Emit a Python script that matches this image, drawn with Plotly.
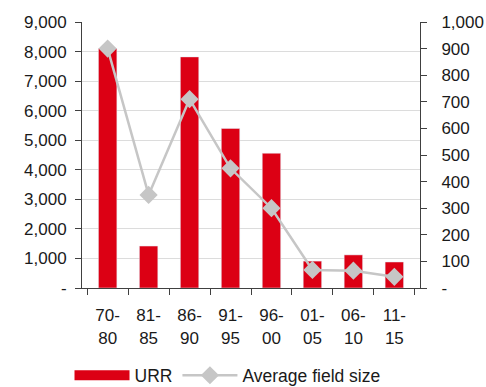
import plotly.graph_objects as go

categories = ["70-<br>80", "81-<br>85", "86-<br>90", "91-<br>95", "96-<br>00", "01-<br>05", "06-<br>10", "11-<br>15"]
urr = [8100, 1420, 7820, 5400, 4560, 910, 1120, 880]
avg_field_size = [900, 350, 710, 450, 300, 68, 65, 42]

left_ticks = [0, 1000, 2000, 3000, 4000, 5000, 6000, 7000, 8000, 9000]
left_labels = ["-"] + [f"{v:,}" for v in left_ticks[1:]]
right_ticks = [0, 100, 200, 300, 400, 500, 600, 700, 800, 900, 1000]
right_labels = ["-"] + [f"{v:,}" for v in right_ticks[1:]]

RED = "#DC0014"
GRAY = "#C6C6C6"
FONT = "Liberation Sans, Arial, sans-serif"
FS = 17

fig = go.Figure()
fig.add_trace(go.Bar(x=categories, y=urr, name="URR", marker_color=RED,
                     width=0.45, showlegend=False, yaxis="y"))
# legend proxy for the wide red legend swatch
fig.add_trace(go.Scatter(x=[None], y=[None], mode="lines", name="URR",
                         line=dict(color=RED, width=13), yaxis="y"))
fig.add_trace(go.Scatter(x=categories, y=avg_field_size, name="Average field size",
                         mode="lines+markers", yaxis="y2",
                         line=dict(color=GRAY, width=2.5),
                         marker=dict(symbol="diamond", size=14, color=GRAY)))

fig.update_layout(
    width=486, height=387,
    margin=dict(l=82, r=66, t=22, b=99, autoexpand=False),
    paper_bgcolor="white", plot_bgcolor="white",
    font=dict(family=FONT, size=FS, color="#1a1a1a"),
    xaxis=dict(type="category", showline=True, linecolor="#404040", linewidth=1,
               ticks="outside", tickson="boundaries", ticklen=6, tickcolor="#404040",
               showgrid=False, automargin=False, ticklabelstandoff=12),
    yaxis=dict(range=[0, 9000], tickvals=left_ticks, ticktext=left_labels,
               showline=True, linecolor="#404040", linewidth=1,
               ticks="outside", ticklen=6, tickcolor="#404040",
               showgrid=True, gridcolor="#DCDCDC", gridwidth=1,
               ticklabelstandoff=5, zeroline=False, automargin=False),
    yaxis2=dict(range=[0, 1000], tickvals=right_ticks, ticktext=right_labels,
                overlaying="y", side="right", showline=True, linecolor="#404040",
                linewidth=1, ticks="outside", ticklen=6, tickcolor="#404040",
                showgrid=False, zeroline=False, ticklabelstandoff=11, automargin=False),
    legend=dict(orientation="h", xref="paper", yref="container",
                x=0.4305, xanchor="center", y=0.03, yanchor="middle",
                font=dict(size=17.5), itemwidth=55, traceorder="normal",
                bgcolor="rgba(0,0,0,0)"),
)

fig.write_html("out.html", post_script="document.body.style.margin='0';",
               config={"displayModeBar": False})
